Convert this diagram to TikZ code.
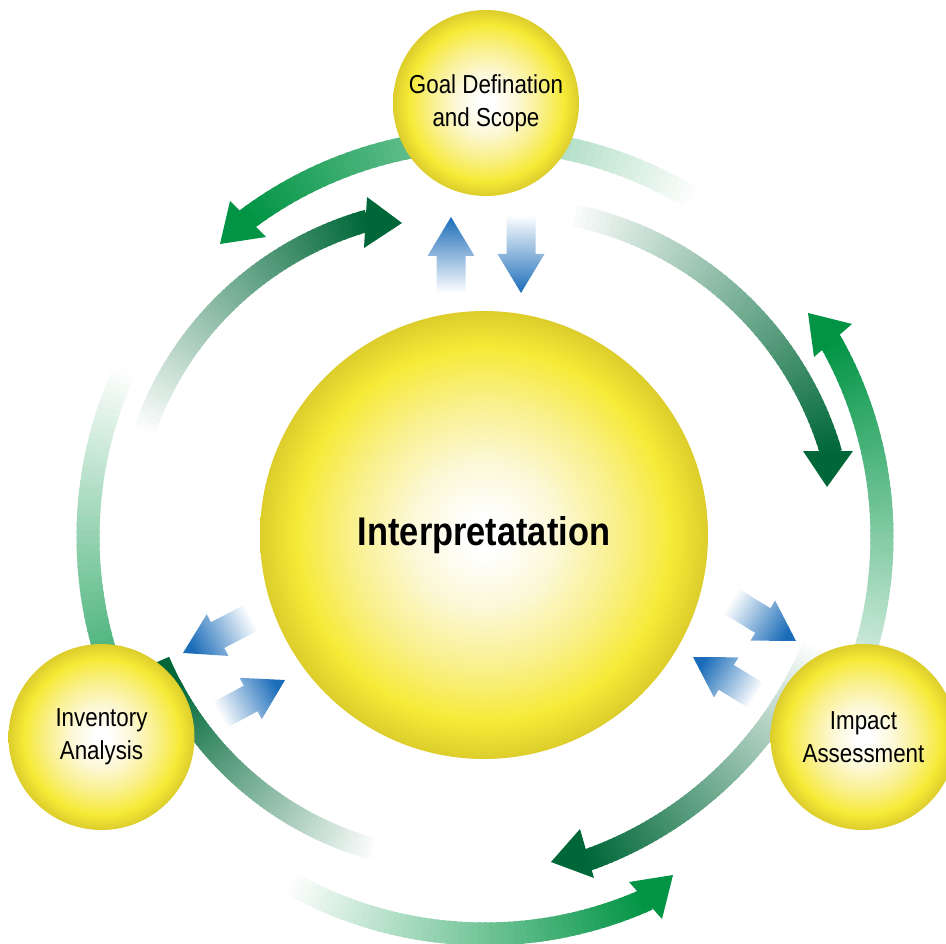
\documentclass[tikz,border=0pt]{standalone}
\usepackage{fontspec}
\newfontfamily\lblfont{Liberation Sans}[FakeStretch=0.86]
\usetikzlibrary{calc}
\definecolor{gOuter}{HTML}{009444}
\definecolor{gInner}{HTML}{006838}
\definecolor{bArrow}{HTML}{1C6DB9}
\definecolor{yEdge}{HTML}{DCCD2C}
\definecolor{yBright}{HTML}{F6EA36}
\definecolor{yMid}{HTML}{F9F08A}
\definecolor{yCream}{HTML}{FCF8D8}
\pgfdeclareradialshading{ballY}{\pgfpoint{0bp}{0bp}}{color(0bp)=(white); color(2bp)=(white); color(8bp)=(yCream); color(15bp)=(yMid); color(21bp)=(yBright); color(25bp)=(yEdge); color(50bp)=(yEdge)}
% gradient band along an arc: cx, cy, radius, angle (white end), angle (full end), colour, width
\newcommand{\gradarc}[7]{%
  \foreach \i in {0,...,59}{%
    \pgfmathsetmacro{\aa}{#4+(#5-#4)*\i/60}%
    \pgfmathsetmacro{\ab}{#4+(#5-#4)*(\i+1.5)/60}%
    \pgfmathsetmacro{\pc}{100*(\i+0.5)/60}%
    \draw[line width=#7, line cap=butt, draw=#6!\pc!white] ([shift={(\aa:#3)}]#1,#2) arc[start angle=\aa, end angle=\ab, radius=#3];
  }%
}
% blue block arrow: tail, tip, shading angle
\newcommand{\blockarr}[3]{%
  \coordinate (T) at #1;
  \coordinate (P) at #2;
  \coordinate (B) at ($(P)!39pt!(T)$);
  \shade[top color=bArrow, bottom color=white, shading angle=#3]
    ($(T)!14.5pt!90:(P)$) -- ($(B)!14.5pt!90:(P)$) -- ($(B)!23.5pt!90:(P)$) -- (P)
    -- ($(B)!23.5pt!-90:(P)$) -- ($(B)!14.5pt!-90:(P)$) -- ($(T)!14.5pt!-90:(P)$) -- cycle;
}
\tikzset{
  ball/.style={circle, shade, shading=ballY, inner sep=0pt, text=black, align=center},
  small/.style={ball, minimum size=186pt, font=\lblfont\fontsize{26}{33}\selectfont},
}
\begin{document}
\begin{tikzpicture}[x=1pt, y=-1pt]
\clip (0,0) rectangle (946,944);
% outer ring arcs
\gradarc{485}{537}{397}{-58}{-126.7}{gOuter}{23pt}
\fill[gOuter] (220,244) -- (230,201) -- (266,237) -- cycle;
\gradarc{485}{537}{397}{28}{-29.5}{gOuter}{23pt}
\fill[gOuter] (808,313) -- (814,357) -- (852,324) -- cycle;
\gradarc{485}{537}{397}{119.5}{66.2}{gOuter}{23pt}
\fill[gOuter] (673,875) -- (629,882) -- (662,919) -- cycle;
\gradarc{485}{537}{397}{205}{145}{gOuter}{23pt}
% inner ring arcs
\gradarc{458}{540}{332}{199}{253.8}{gInner}{22pt}
\fill[gInner] (402,223) -- (367,197) -- (364,248) -- cycle;
\gradarc{504}{549}{341}{-79}{-16.8}{gInner}{22pt}
\fill[gInner] (827,487) -- (803,451) -- (853,451) -- cycle;
\gradarc{460}{500}{382}{22}{70.2}{gInner}{22pt}
\fill[gInner] (551,862) -- (580,829) -- (594,878) -- cycle;
\gradarc{461}{533}{328}{105}{152}{gInner}{22pt}
\draw[line width=22pt, line cap=butt, gInner] ([shift={(151:328)}]461,533) arc[start angle=151, end angle=157, radius=328];
% blue arrows
\blockarr{(451,293)}{(451,217)}{0}
\blockarr{(521,215)}{(521,293)}{180}
\blockarr{(251.5,617.5)}{(183,653)}{117.4}
\blockarr{(220,715)}{(285,680)}{-61.7}
\blockarr{(731,601)}{(796,641)}{-121.6}
\blockarr{(755,695)}{(693,657)}{58.5}
% circles
\node[ball, minimum size=448pt, font=\lblfont\bfseries\fontsize{40}{48}\selectfont] (interp) at (484,535) {Interpretatation};
\node[small] (goal) at (486,103) {Goal Defination\\and Scope};
\node[small] (inv) at (101.5,737) {Inventory\\Analysis};
\node[small] (impact) at (863.5,737) {Impact\\Assessment};
\end{tikzpicture}
\end{document}
